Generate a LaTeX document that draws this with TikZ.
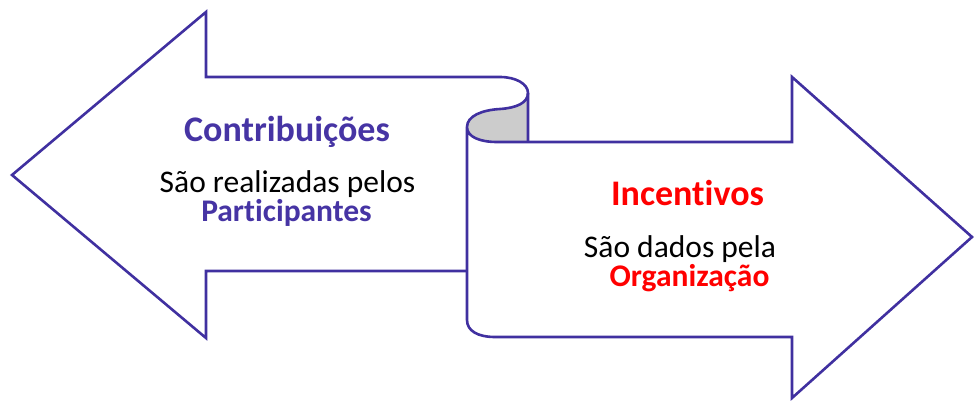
\documentclass[tikz,border=0pt]{standalone}
\usepackage{fontspec}
\setmainfont{Carlito}[RawFeature={-liga;-dlig;-clig;-calt}]
\definecolor{lineblue}{RGB}{64,48,160}
\definecolor{txtpurple}{RGB}{70,52,164}
\definecolor{scrollgray}{RGB}{204,204,204}
\begin{document}
\begin{tikzpicture}[x=1pt,y=-1pt,
  outline/.style={draw=lineblue,line width=2.6pt,line join=miter},
  title/.style={anchor=base,inner sep=0pt,text height=24pt,text depth=6pt,font=\fontsize{36}{40}\selectfont\bfseries},
  body/.style={anchor=base,inner sep=0pt,text height=21pt,text depth=5pt,font=\fontsize{31.5}{34}\selectfont},
  bodybold/.style={anchor=base,inner sep=0pt,text height=21pt,text depth=5pt,font=\fontsize{31.5}{34}\selectfont\bfseries}]
\useasboundingbox (0,0) rectangle (974,401);
% gray inside of the curl
\fill[scrollgray] (528,93) .. controls (528,103) and (516,108) .. (500,109)
  .. controls (482,110) and (467,116) .. (467,127)
  .. controls (467,137) and (480,142) .. (497,142) -- (528,142) -- cycle;
% left arrow with top of the curl
\draw[outline] (467,271) -- (206,271) -- (206,338) -- (12,175) -- (206,12) -- (206,77) -- (500,77)
  .. controls (516,77) and (528,84) .. (528,93) -- (528,142);
% scroll and right arrow
\draw[outline] (528,93) .. controls (528,103) and (516,108) .. (500,109)
  .. controls (482,110) and (467,116) .. (467,127)
  .. controls (467,137) and (480,142) .. (497,142) -- (792,142) -- (792,77) -- (972,237)
  -- (792,398) -- (792,337) -- (495,337) .. controls (478,337) and (467,331) .. (467,320) -- (467,127);
% texts
\node[title,text=txtpurple] (contrib) at (287,142) {Contribuições};
\node[body] (realiz) at (287.5,192) {São realizadas pelos};
\node[bodybold,text=txtpurple] (partic) at (286.5,221) {Participantes};
\node[title,text=red] (incent) at (687.5,205) {Incentivos};
\node[body] (dados) at (680,257) {São dados pela};
\node[bodybold,text=red] (organiz) at (689.5,286) {Organização};
\end{tikzpicture}
\end{document}
